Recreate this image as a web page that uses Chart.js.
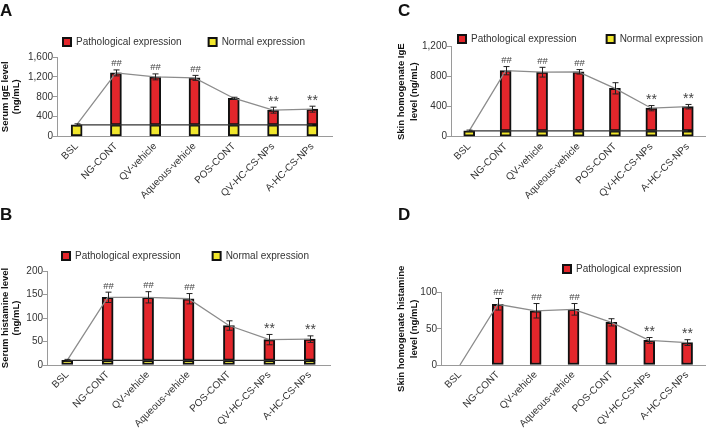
<!doctype html>
<html lang="en">
<head>
<meta charset="utf-8">
<title>IgE and histamine levels</title>
<script src="https://cdn.jsdelivr.net/npm/chart.js@4.4.1/dist/chart.umd.min.js"></script>
<style>
  body { margin: 0; background: #fff; }
  #wrap { position: relative; width: 706px; height: 428px; overflow: hidden; font-family: "Liberation Sans", Arial, sans-serif; }
  #wrap canvas { position: absolute; }
  .panel { position: absolute; font-weight: bold; font-size: 17px; line-height: 17px; color: #111; }
</style>
</head>
<body>
<div id="wrap">
  <canvas id="chartA" width="353" height="214" style="left:0;top:0"></canvas>
  <canvas id="chartC" width="353" height="214" style="left:353px;top:0"></canvas>
  <canvas id="chartB" width="353" height="214" style="left:0;top:214px"></canvas>
  <canvas id="chartD" width="353" height="214" style="left:353px;top:214px"></canvas>
  <div class="panel" style="left:0;top:2px">A</div>
  <div class="panel" style="left:398px;top:2px">C</div>
  <div class="panel" style="left:0;top:206px">B</div>
  <div class="panel" style="left:398px;top:206px">D</div>
</div>
<script>
// groups on the x axis
const categories = ['BSL', 'NG-CONT', 'QV-vehicle', 'Aqueous-vehicle', 'POS-CONT', 'QV-HC-CS-NPs', 'A-HC-CS-NPs'];
const marks = ['', '##', '##', '##', '', '**', '**'];

// A - serum IgE (ng/mL)
const serumIgE = [235, 1280, 1200, 1180, 770, 530, 550];
const serumIgEErr = [20, 60, 60, 50, 20, 60, 60];
const serumIgETicks = [0, 1600, 400];

// B - serum histamine (ng/mL)
const serumHis = [10, 144, 144, 141, 84, 54, 55];
const serumHisErr = [2, 11, 12, 11, 10, 11, 7];
const serumHisTicks = [0, 200, 50];

// C - skin homogenate IgE (ng/mL)
const skinIgE = [78, 880, 860, 865, 645, 380, 400];
const skinIgEErr = [10, 55, 65, 30, 75, 35, 30];
const skinIgETicks = [0, 1200, 400];

// D - skin homogenate histamine (ng/mL), no baseline bar
const skinHis = [0, 84, 75, 77, 59, 34, 31];
const skinHisErr = [0, 8, 10, 8, 5, 4, 4];
const skinHisTicks = [0, 100, 50];

const RED = '#e3262b';
const YELLOW = '#f1e72d';
const AXIS = '#9a9a9a';
const FONT = '"Liberation Sans", Arial, sans-serif';

Chart.defaults.font.family = FONT;
Chart.defaults.color = '#333';

// error bars and significance marks, placed with the chart's own scales
const errBars = {
    id: 'errbars',
    afterDatasetsDraw(chart, args, opts) {
        const ctx = chart.ctx;
        const xs = chart.scales.x, ys = chart.scales.y;
        ctx.save();
        opts.means.forEach(function (m, i) {
            const e = opts.errors[i];
            const px = Math.round(xs.getPixelForValue(i)) + 0.5;
            const top = ys.getPixelForValue(m + e);
            if (e > 0) {
                const bot = ys.getPixelForValue(m - e);
                ctx.strokeStyle = '#222';
                ctx.lineWidth = 1;
                ctx.beginPath();
                ctx.moveTo(px, top); ctx.lineTo(px, bot);
                ctx.moveTo(px - 3, top); ctx.lineTo(px + 3, top);
                ctx.moveTo(px - 3, bot); ctx.lineTo(px + 3, bot);
                ctx.stroke();
            }
            const mk = opts.marks[i];
            if (mk) {
                ctx.fillStyle = '#444';
                ctx.textAlign = 'center';
                ctx.textBaseline = 'alphabetic';
                if (mk === '##') {
                    ctx.font = '9.5px ' + FONT;
                    ctx.fillText(mk, px, top - 3.5);
                } else {
                    ctx.font = '14px ' + FONT;
                    ctx.fillText(mk, px, top - 1.5);
                }
            }
        });
        ctx.restore();
    }
};

function drawPanel(p) {
    const normal = p.withNormal ? p.means[0] : null;
    const datasets = [];
    datasets.push({
        type: 'bar',
        label: 'Pathological expression',
        data: p.means.map(function (m, i) {
            if (i === 0 && normal !== null) return null;
            if (i === 0 && m === 0) return null;
            return normal !== null ? [normal, m] : m;
        }),
        backgroundColor: RED,
        borderColor: '#111',
        borderWidth: 2,
        borderSkipped: false,
        barThickness: 11,
        grouped: false,
        order: 2
    });
    if (normal !== null) {
        datasets.push({
            type: 'bar',
            label: 'Normal expression',
            data: p.means.map(function () { return normal; }),
            backgroundColor: YELLOW,
            borderColor: '#111',
            borderWidth: 2,
            borderSkipped: false,
            barThickness: 11,
            grouped: false,
            order: 2
        });
        datasets.push({
            type: 'line',
            label: 'normal level',
            data: p.means.map(function () { return normal; }),
            borderColor: '#333',
            borderWidth: 1.2,
            pointRadius: 0,
            order: 1
        });
    }
    datasets.push({
        type: 'line',
        label: 'mean',
        data: p.means,
        borderColor: '#8c8c8c',
        borderWidth: 1.3,
        pointRadius: 0,
        order: 1
    });

    return new Chart(document.getElementById(p.canvas), {
        data: { labels: categories, datasets: datasets },
        options: {
            responsive: false,
            animation: false,
            devicePixelRatio: 1,
            layout: { padding: p.padding },
            plugins: {
                tooltip: { enabled: false },
                title: p.spacer ? { display: true, text: '', weight: 500, padding: 0, font: { size: p.spacer, lineHeight: 1 } } : { display: false },
                legend: {
                    align: p.legendAlign,
                    maxHeight: p.legendMaxH,
                    labels: {
                        boxWidth: 8,
                        boxHeight: 8,
                        padding: p.legendPad,
                        color: '#333',
                        font: { size: 10 },
                        filter: function (item, data) { return data.datasets[item.datasetIndex].type === 'bar'; }
                    }
                },
                errbars: { means: p.means, errors: p.errors, marks: marks }
            },
            scales: {
                x: {
                    grid: { display: false, drawTicks: false },
                    border: { color: AXIS, width: 1 },
                    ticks: { autoSkip: false, minRotation: 45, maxRotation: 45, padding: 4, color: '#333', font: { size: 10 } },
                    afterFit: function (s) { s.height = p.xHeight; s.paddingLeft = 0; s.paddingRight = p.rightGap; }
                },
                y: {
                    min: p.ticks[0],
                    max: p.ticks[1],
                    ticks: { stepSize: p.ticks[2], padding: 0, color: '#333', font: { size: 10 } },
                    grid: { drawOnChartArea: false, tickLength: 4, color: AXIS },
                    border: { color: AXIS, width: 1 },
                    title: {
                        display: true,
                        text: p.title,
                        color: '#111',
                        font: { size: 9.5, weight: 'bold', lineHeight: p.titleLH },
                        padding: { top: p.titlePad, bottom: 0 }
                    },
                    afterFit: function (s) { s.width = p.yWidth; s.paddingBottom = 0; }
                }
            }
        },
        plugins: [errBars]
    });
}

drawPanel({
    canvas: 'chartA', means: serumIgE, errors: serumIgEErr, ticks: serumIgETicks, withNormal: true,
    title: ['Serum IgE level', '(ng/mL)'], titleLH: 1.18, titlePad: -15.1,
    padding: { left: 15, top: 10, right: 0, bottom: 0 },
    legendPad: 27, legendAlign: 'center', yWidth: 42, xHeight: 77.5, rightGap: 21
});
drawPanel({
    canvas: 'chartB', means: serumHis, errors: serumHisErr, ticks: serumHisTicks, withNormal: true,
    title: ['Serum histamine level', '(ng/mL)'], titleLH: 1.18, titlePad: -18.1,
    padding: { left: 18, top: 5, right: 0, bottom: 0 },
    legendPad: 32, legendAlign: 'center', yWidth: 29, xHeight: 63, rightGap: 23
});
drawPanel({
    canvas: 'chartC', means: skinIgE, errors: skinIgEErr, ticks: skinIgETicks, withNormal: true,
    title: ['Skin homogenate IgE', 'level (ng/mL)'], titleLH: 1.4, titlePad: 41.4,
    padding: { left: 0, top: 4, right: -27, bottom: 0 },
    legendPad: 30, legendAlign: 'end', legendMaxH: 42.7, yWidth: 98, xHeight: 77.3, rightGap: 0
});
drawPanel({
    canvas: 'chartD', means: skinHis, errors: skinHisErr, ticks: skinHisTicks, withNormal: false,
    title: ['Skin homogenate histamine', 'level (ng/mL)'], titleLH: 1.4, titlePad: 41.4,
    padding: { left: 0, top: 25.6, right: 0, bottom: 0 },
    legendPad: 24.4, legendAlign: 'end', yWidth: 88, xHeight: 63, rightGap: 0, spacer: 8.7
});
</script>
</body>
</html>
